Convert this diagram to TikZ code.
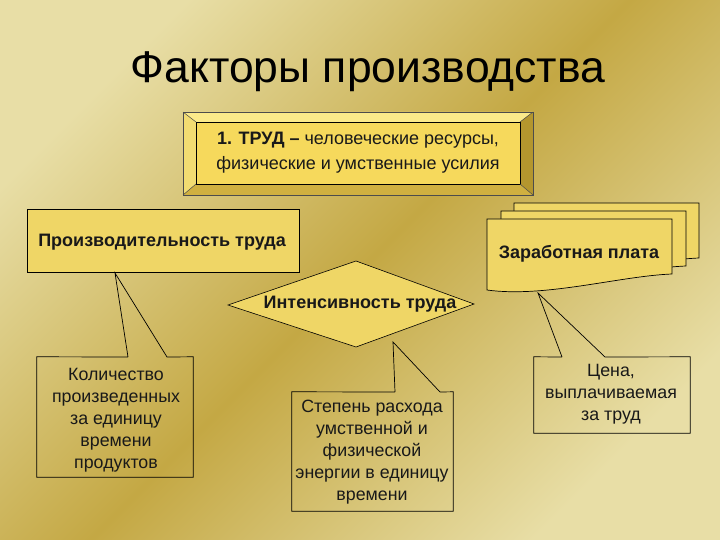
\documentclass[tikz,border=0pt]{standalone}
\usepackage{fontspec}
\setmainfont{Liberation Sans}
\usetikzlibrary{calc}
\definecolor{bgl}{HTML}{E8DEA6}
\definecolor{bgd}{HTML}{C4A844}
\definecolor{boxy}{HTML}{EFD666}
\definecolor{facey}{HTML}{F6D95C}
\definecolor{bevtop}{HTML}{FBEA8A}
\definecolor{bevleft}{HTML}{F2DC72}
\definecolor{bevright}{HTML}{B4962E}
\definecolor{bevbot}{HTML}{D0B040}
\tikzset{
  outl/.style={draw=black, line width=0.7pt},
  lbl/.style={font=\fontsize{18}{21}\selectfont\bfseries, text=black!90, inner sep=0pt, align=center},
  ctext/.style={font=\fontsize{17.8}{22}\selectfont, text=black!90, inner sep=0pt, align=center},
  cbox/.style={draw=none, inner sep=0pt},
  callout/.style={draw=black, line width=0.7pt},
}
\begin{document}
\begin{tikzpicture}[x=1pt,y=-1pt]
\useasboundingbox (0,0) rectangle (720,540);
\shade[top color=bgl, bottom color=bgl, middle color=bgd, shading angle=45] (0,0) rectangle (720,540);

% title
\node[inner sep=0pt] (title) at (368,72) {\fontsize{44.5}{52}\selectfont Факторы производства};

% top bevel box
\fill[bevtop] (183,112) -- (533,112) -- (520,122) -- (196,122) -- cycle;
\fill[bevleft] (183,112) -- (196,122) -- (196,184) -- (183,195) -- cycle;
\fill[bevright] (533,112) -- (533,195) -- (520,184) -- (520,122) -- cycle;
\fill[bevbot] (183,195) -- (533,195) -- (520,184) -- (196,184) -- cycle;
\fill[facey] (196,122) rectangle (520,184);
\draw[line width=0.6pt, black!70] (183,112) rectangle (533,195);
\draw[line width=0.7pt] (196,122) rectangle (520,184);
\draw[line width=0.5pt, black!70] (183,112) -- (196,122) (533,112) -- (520,122) (533,195) -- (520,184) (183,195) -- (196,184);
\node[inner sep=0pt, align=center, font=\fontsize{18}{25}\selectfont, text=black!90] (trud) at (358,153)
  {\textbf{1. ТРУД –} человеческие ресурсы,\\физические и умственные усилия};

% productivity box
\node[outl, fill=boxy, minimum width=272pt, minimum height=63pt, inner sep=0pt] (prod) at (163,240.5) {};
\node[lbl] (prodt) at (162,242) {Производительность труда};

% wage document stack
\foreach \dx/\dy in {27/-16, 14/-8, 0/0}{
  \begin{scope}[shift={(\dx,\dy)}]
  \filldraw[fill=boxy, draw=black, line width=0.7pt]
    (487,219) -- (672,219) -- (672,274) .. controls (620,276) and (545,298) .. (487,290) -- cycle;
  \end{scope}
}
\node[lbl] (wage) at (579,254) {Заработная плата};

% intensity diamond
\coordinate (dl) at (228,305);
\coordinate (dt) at (356,261);
\coordinate (dr) at (474,304);
\coordinate (db) at (356,347);
\filldraw[fill=boxy, draw=black, line width=0.6pt] (dl) -- (dt) -- (dr) -- (db) -- cycle;
\node[lbl] (intt) at (360,304) {Интенсивность труда};

% callout 1
\node[cbox, minimum width=156pt, minimum height=120pt] (c1) at (115,417) {};
\coordinate (a1) at (115,273);
\coordinate (b1l) at (128,357);
\coordinate (b1r) at (167,357);
\draw[callout] (b1l) -- (a1) -- (b1r) -- (c1.north east) -- (c1.south east) -- (c1.south west) -- (c1.north west) -- (b1l);
\node[ctext] (t1) at (116,420) {Количество\\произведенных\\за единицу\\времени\\продуктов};

% callout 2
\node[cbox, minimum width=161pt, minimum height=119pt] (c2) at (372.5,451.5) {};
\coordinate (a2) at (393,342);
\coordinate (b2l) at (395,392);
\coordinate (b2r) at (440,392);
\draw[callout] (b2l) -- (a2) -- (b2r) -- (c2.north east) -- (c2.south east) -- (c2.south west) -- (c2.north west) -- (b2l);
\node[ctext] (t2) at (372,452) {Степень расхода\\умственной и\\физической\\энергии в единицу\\времени};

% callout 3
\node[cbox, minimum width=156pt, minimum height=76pt] (c3) at (612,395) {};
\coordinate (a3) at (538,293);
\coordinate (b3l) at (562,357);
\coordinate (b3r) at (605,357);
\draw[callout] (b3l) -- (a3) -- (b3r) -- (c3.north east) -- (c3.south east) -- (c3.south west) -- (c3.north west) -- (b3l);
\node[ctext] (t3) at (611,394) {Цена,\\выплачиваемая\\за труд};
\end{tikzpicture}
\end{document}
